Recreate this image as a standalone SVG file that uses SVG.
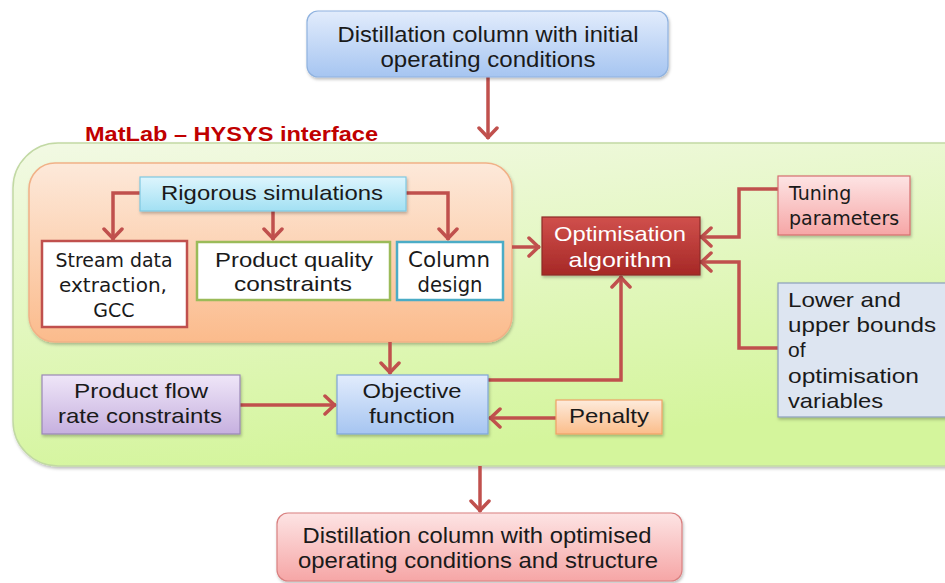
<svg xmlns="http://www.w3.org/2000/svg" width="945" height="583" viewBox="0 0 945 583">
<defs>
<style>
.t{font-family:"Liberation Sans",Arial,sans-serif;font-size:21px;fill:#1a1a1a;text-anchor:middle}
.v{font-family:"DejaVu Sans",Verdana,sans-serif;font-size:19px;fill:#1a1a1a}
.ca{fill:none;stroke:#c0504d;stroke-width:3.5;marker-end:url(#ah)}
</style>
<marker id="ah" viewBox="-14 -11 16 22" refX="0" refY="0" markerWidth="16" markerHeight="22" markerUnits="userSpaceOnUse" orient="auto">
<path d="M-11,-9 L-1.5,0 L-11,9" fill="none" stroke="#c0504d" stroke-width="3.5" stroke-linecap="round"/>
</marker>
<filter id="sh" x="-10%" y="-10%" width="120%" height="130%">
<feDropShadow dx="1" dy="2" stdDeviation="1.5" flood-color="#000" flood-opacity="0.25"/>
</filter>
<linearGradient id="gBlue" x1="0" y1="0" x2="0" y2="1"><stop offset="0" stop-color="#e2ecfc"/><stop offset="1" stop-color="#a6c5f1"/></linearGradient>
<linearGradient id="gGreen" x1="0" y1="0" x2="0.3" y2="1"><stop offset="0" stop-color="#f2f9e4"/><stop offset="1" stop-color="#d4f59c"/></linearGradient>
<linearGradient id="gOrange" x1="0" y1="0" x2="0" y2="1"><stop offset="0" stop-color="#fde9da"/><stop offset="1" stop-color="#fbbb8c"/></linearGradient>
<linearGradient id="gCyan" x1="0" y1="0" x2="0" y2="1"><stop offset="0" stop-color="#ddf5fd"/><stop offset="1" stop-color="#a2e0f3"/></linearGradient>
<linearGradient id="gRed" x1="0" y1="0" x2="0" y2="1"><stop offset="0" stop-color="#d0504c"/><stop offset="1" stop-color="#a62826"/></linearGradient>
<linearGradient id="gPink" x1="0" y1="0" x2="0" y2="1"><stop offset="0" stop-color="#fde4e4"/><stop offset="1" stop-color="#f6a6a6"/></linearGradient>
<linearGradient id="gLav" x1="0" y1="0" x2="0" y2="1"><stop offset="0" stop-color="#efe6f8"/><stop offset="1" stop-color="#c6b0df"/></linearGradient>
<linearGradient id="gPen" x1="0" y1="0" x2="0" y2="1"><stop offset="0" stop-color="#fdebdc"/><stop offset="1" stop-color="#fbbd8a"/></linearGradient>
</defs>
<rect width="945" height="583" fill="#ffffff"/>

<g id="interface">
<rect x="13" y="143" width="980" height="323" rx="45" ry="45" fill="url(#gGreen)" stroke="#c2d9a4" stroke-width="1.5" filter="url(#sh)"/>
<text x="85" y="141" font-family="'Liberation Sans',Arial,sans-serif" font-size="20" font-weight="bold" fill="#c00000" textLength="293" lengthAdjust="spacingAndGlyphs">MatLab – HYSYS  interface</text>
</g>

<g id="simulation-group">
<rect x="29" y="163" width="483" height="179" rx="26" ry="26" fill="url(#gOrange)" stroke="#f1b187" stroke-width="1.5" filter="url(#sh)"/>
</g>

<g id="connectors">
<line class="ca" x1="488" y1="77" x2="488" y2="139"/>
<polyline class="ca" points="140,193 113,193 113,240"/>
<line class="ca" x1="273" y1="211" x2="273" y2="240"/>
<polyline class="ca" points="406,193 448,193 448,240"/>
<line class="ca" x1="512" y1="247" x2="540" y2="247"/>
<polyline class="ca" points="778,189 739,189 739,237 700,237"/>
<polyline class="ca" points="778,348 739,348 739,262 700,262"/>
<polyline class="ca" points="488,380 621,380 621,276"/>
<line class="ca" x1="390" y1="342" x2="390" y2="374"/>
<line class="ca" x1="240" y1="405" x2="336" y2="405"/>
<line class="ca" x1="556" y1="418" x2="489" y2="418"/>
<line class="ca" x1="480" y1="466" x2="480" y2="512"/>
</g>

<g id="initial">
<rect x="307" y="11" width="361" height="66" rx="11" ry="11" fill="url(#gBlue)" stroke="#8fb2df" stroke-width="1.2" filter="url(#sh)"/>
<text class="t" x="488" y="42" style="font-size:22px" textLength="301" lengthAdjust="spacingAndGlyphs">Distillation column with initial</text>
<text class="t" x="488" y="67" style="font-size:22px" textLength="215" lengthAdjust="spacingAndGlyphs">operating conditions</text>
</g>

<g id="rigorous">
<rect x="140" y="177" width="266" height="34" fill="url(#gCyan)" stroke="#7fc9e1" stroke-width="1.2" filter="url(#sh)"/>
<text class="t" x="272" y="200" textLength="222" lengthAdjust="spacingAndGlyphs">Rigorous simulations</text>
</g>

<g id="stream">
<rect x="42" y="241" width="145" height="86" fill="#ffffff" stroke="#c0504d" stroke-width="2.5"/>
<text class="v" x="114" y="267" text-anchor="middle" textLength="117" lengthAdjust="spacingAndGlyphs">Stream data</text>
<text class="v" x="113" y="292" text-anchor="middle" textLength="108" lengthAdjust="spacingAndGlyphs">extraction,</text>
<text class="v" x="114" y="317" text-anchor="middle">GCC</text>
</g>

<g id="quality">
<rect x="197" y="242" width="193" height="58" fill="#ffffff" stroke="#9bbb59" stroke-width="2.5"/>
<text class="t" x="294" y="267" textLength="158" lengthAdjust="spacingAndGlyphs">Product quality</text>
<text class="t" x="293" y="291" textLength="118" lengthAdjust="spacingAndGlyphs">constraints</text>
</g>

<g id="column">
<rect x="397" y="242" width="106" height="58" fill="#ffffff" stroke="#4bacc6" stroke-width="2.5"/>
<text class="v" x="449" y="267" text-anchor="middle" style="font-size:21px" textLength="82" lengthAdjust="spacingAndGlyphs">Column</text>
<text class="v" x="450" y="292" text-anchor="middle" style="font-size:21px" textLength="65" lengthAdjust="spacingAndGlyphs">design</text>
</g>

<g id="optimisation">
<rect x="542" y="217" width="158" height="58" fill="url(#gRed)" stroke="#8e2b29" stroke-width="1.2" filter="url(#sh)"/>
<text class="t" x="620" y="241" style="fill:#ffffff" textLength="132" lengthAdjust="spacingAndGlyphs">Optimisation</text>
<text class="t" x="620" y="267" style="fill:#ffffff" textLength="103" lengthAdjust="spacingAndGlyphs">algorithm</text>
</g>

<g id="tuning">
<rect x="778" y="176" width="132" height="59" fill="url(#gPink)" stroke="#d66e6e" stroke-width="1.2" filter="url(#sh)"/>
<text class="v" x="789" y="200">Tuning</text>
<text class="v" x="789" y="225">parameters</text>
</g>

<g id="bounds">
<rect x="778" y="283" width="180" height="134" fill="#dde5f1" stroke="#8d9fbd" stroke-width="1.2" filter="url(#sh)"/>
<text class="t" x="788" y="307" style="text-anchor:start" textLength="113" lengthAdjust="spacingAndGlyphs">Lower  and</text>
<text class="t" x="788" y="332" style="text-anchor:start" textLength="148" lengthAdjust="spacingAndGlyphs">upper bounds</text>
<text class="t" x="788" y="357" style="text-anchor:start">of</text>
<text class="t" x="788" y="383" style="text-anchor:start" textLength="131" lengthAdjust="spacingAndGlyphs">optimisation</text>
<text class="t" x="788" y="408" style="text-anchor:start" textLength="95" lengthAdjust="spacingAndGlyphs">variables</text>
</g>

<g id="flowrate">
<rect x="42" y="375" width="198" height="59" fill="url(#gLav)" stroke="#9a88b6" stroke-width="1.2" filter="url(#sh)"/>
<text class="t" x="141" y="398" textLength="134" lengthAdjust="spacingAndGlyphs">Product flow</text>
<text class="t" x="140" y="423" textLength="164" lengthAdjust="spacingAndGlyphs">rate constraints</text>
</g>

<g id="objective">
<rect x="337" y="375" width="151" height="59" fill="url(#gBlue)" stroke="#7fa5d8" stroke-width="1.2" filter="url(#sh)"/>
<text class="t" x="412" y="398" textLength="99" lengthAdjust="spacingAndGlyphs">Objective</text>
<text class="t" x="412" y="423" textLength="86" lengthAdjust="spacingAndGlyphs">function</text>
</g>

<g id="penalty">
<rect x="556" y="400" width="106" height="34" fill="url(#gPen)" stroke="#eea266" stroke-width="1.2" filter="url(#sh)"/>
<text class="t" x="609" y="423" textLength="80" lengthAdjust="spacingAndGlyphs">Penalty</text>
</g>

<g id="optimised">
<rect x="277" y="513" width="405" height="68" rx="11" ry="11" fill="url(#gPink)" stroke="#d98080" stroke-width="1.2" filter="url(#sh)"/>
<text class="t" x="477" y="543" style="font-size:22px" textLength="349" lengthAdjust="spacingAndGlyphs">Distillation column with optimised</text>
<text class="t" x="478" y="568" style="font-size:22px" textLength="360" lengthAdjust="spacingAndGlyphs">operating conditions and structure</text>
</g>
</svg>
